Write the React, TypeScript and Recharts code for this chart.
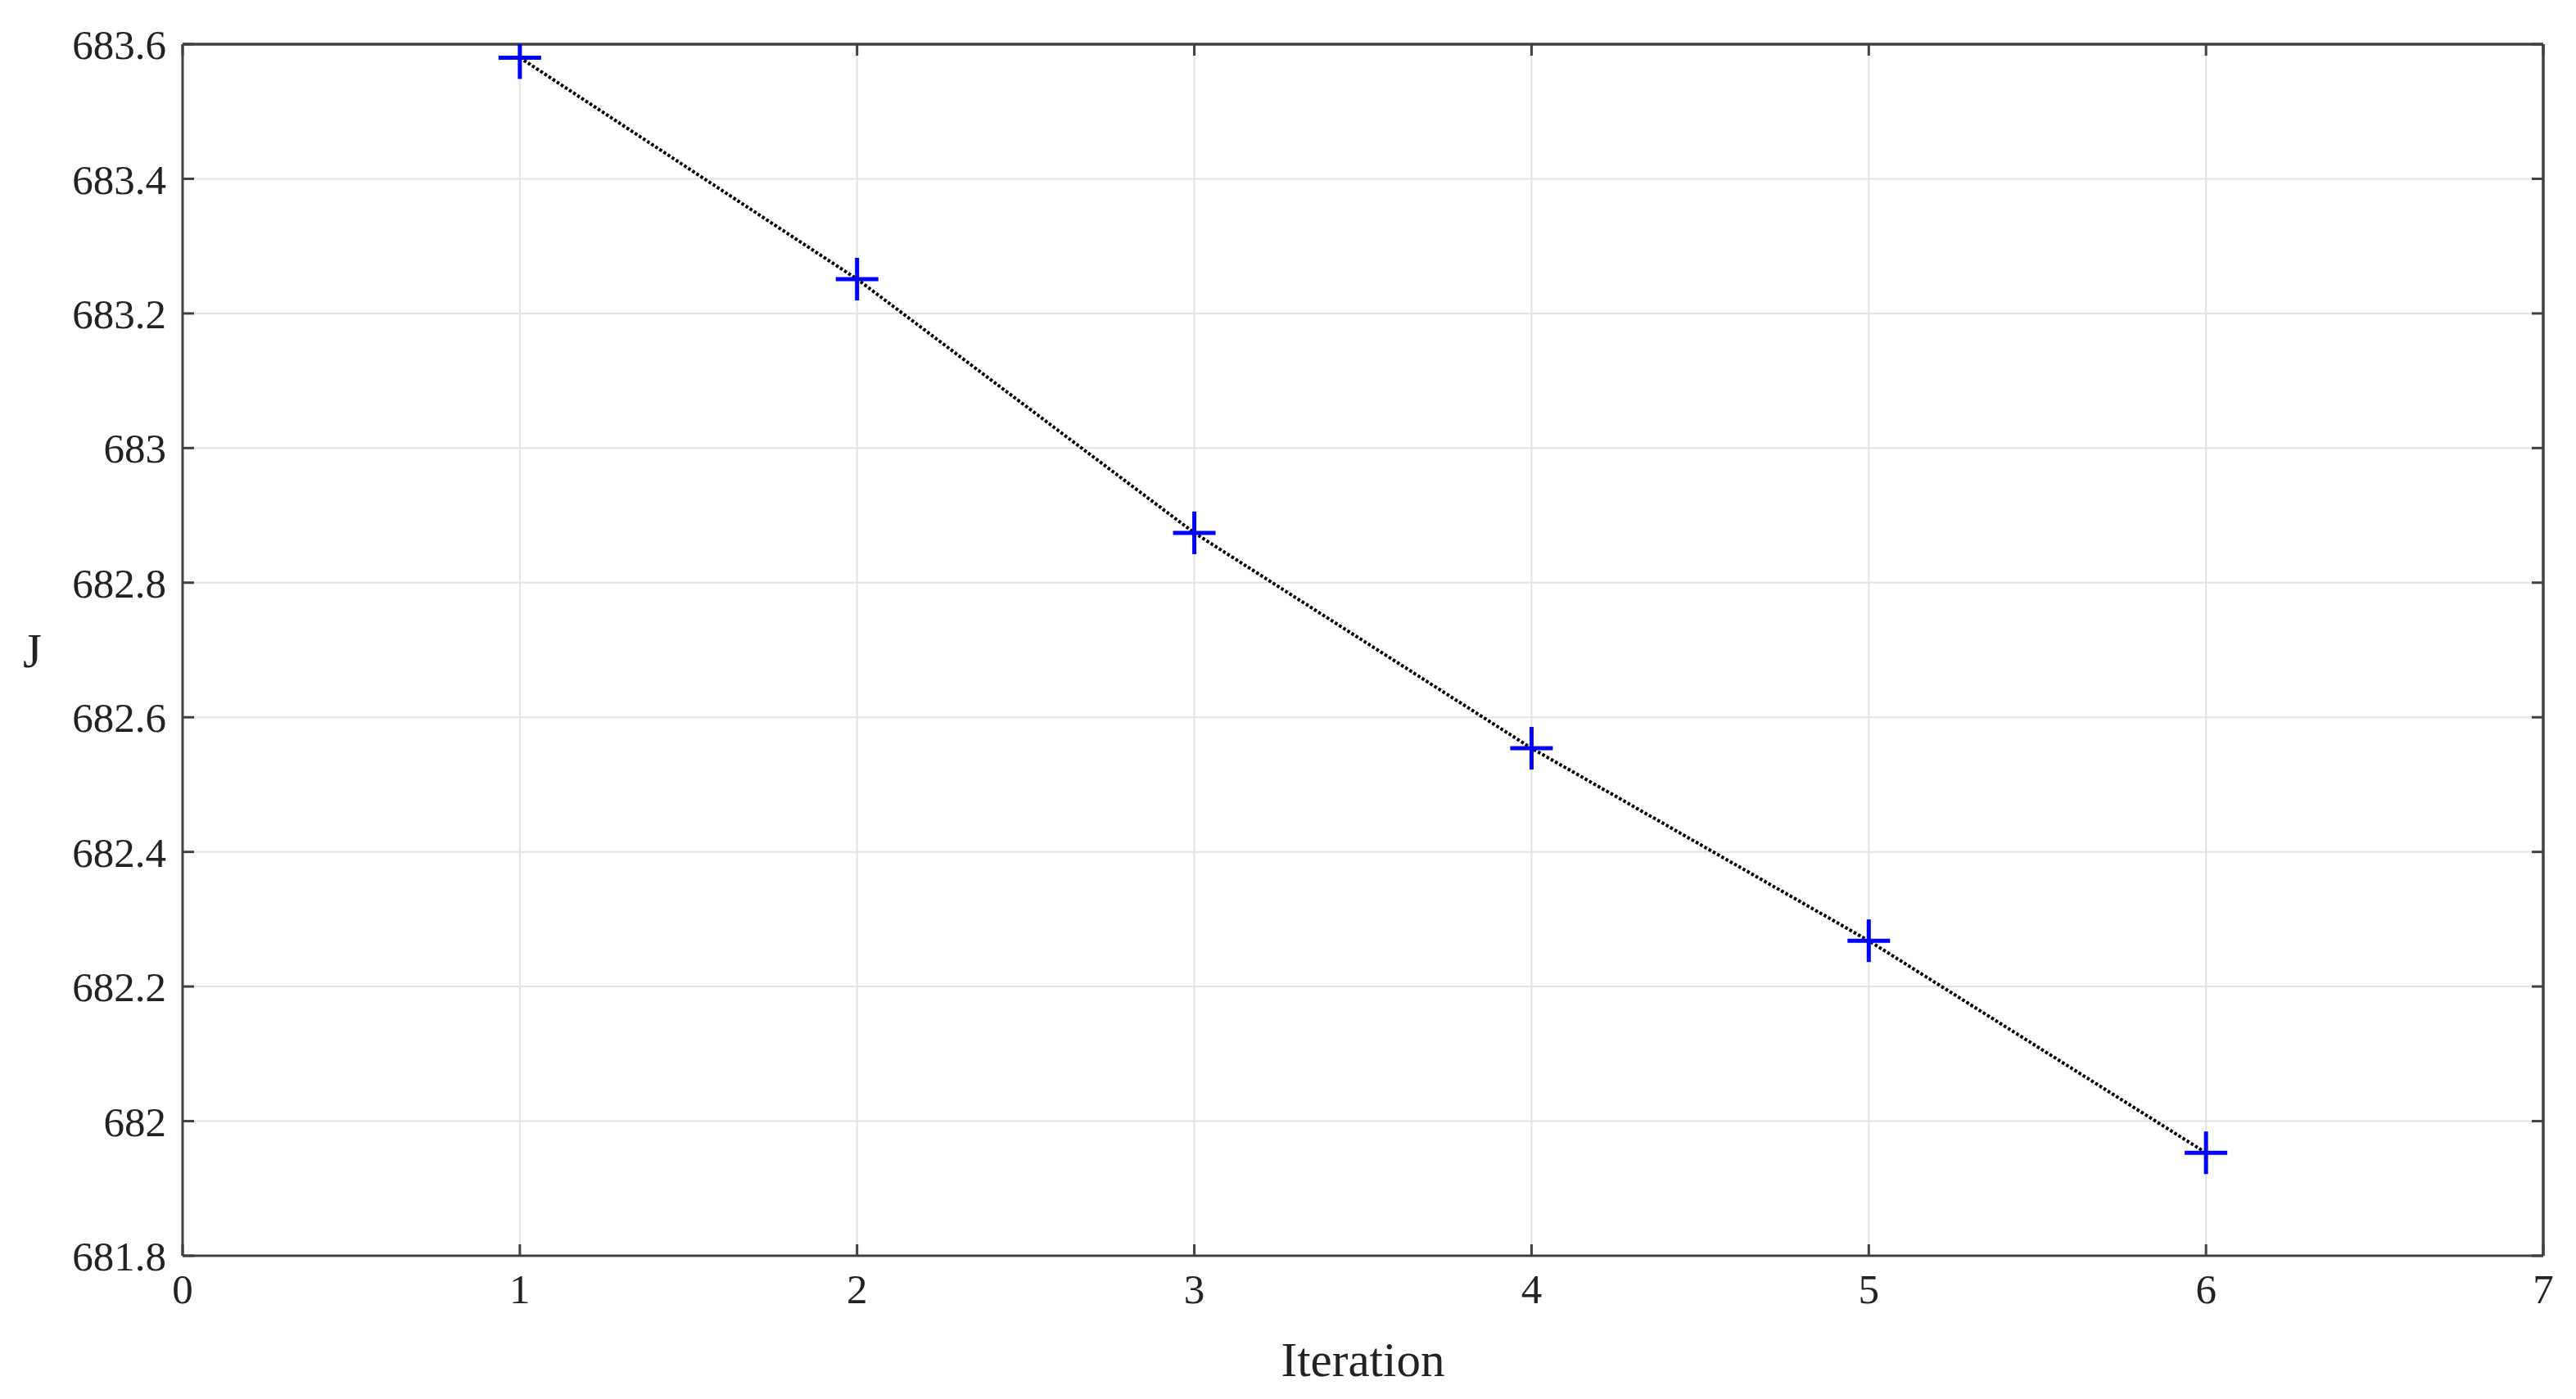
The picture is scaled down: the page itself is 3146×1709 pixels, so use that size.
import React from 'react';
import { LineChart, Line, XAxis, YAxis, CartesianGrid, ReferenceLine } from 'recharts';

const iterations = [1, 2, 3, 4, 5, 6];
const jValues = [683.58, 683.251, 682.874, 682.554, 682.268, 681.953];
const xTicks = [0, 1, 2, 3, 4, 5, 6, 7];
const yTicks = [681.8, 682, 682.2, 682.4, 682.6, 682.8, 683, 683.2, 683.4, 683.6];

const data = iterations.map((it, i) => ({ it, J: jValues[i] }));

const FONT = '"Liberation Serif", "DejaVu Serif", serif';
const AXIS_COLOR = '#404040';

const PlusMarker = (props: any) => {
  const { cx, cy } = props;
  if (cx == null || cy == null) return null;
  const h = 26;
  return (
    <g>
      <line x1={cx - h} y1={cy} x2={cx + h} y2={cy} stroke="#0000ff" strokeWidth={5} />
      <line x1={cx} y1={cy - h} x2={cx} y2={cy + h} stroke="#0000ff" strokeWidth={5} />
    </g>
  );
};

const EmptyTick = () => <g />;

export default function App() {
  const tickStyle = { fontFamily: FONT, fontSize: 51, fill: '#222' };
  return (
    <div style={{ width: 3130, height: 1693, background: '#fff' }}>
      <LineChart
        width={3130}
        height={1693}
        data={data}
        margin={{ top: 45, right: 31, bottom: 0, left: 0 }}
      >
        <CartesianGrid xAxisId="b" yAxisId="l" stroke="#e3e3e3" strokeWidth={2} />
        <XAxis
          xAxisId="b"
          dataKey="it"
          type="number"
          domain={[0, 7]}
          ticks={xTicks}
          allowDataOverflow
          height={167}
          tickSize={-14}
          tickMargin={36}
          stroke={AXIS_COLOR}
          strokeWidth={3}
          tick={tickStyle}
          label={{ value: 'Iteration', position: 'insideBottom', offset: 20, style: { fontFamily: FONT, fontSize: 59, fill: '#222' } }}
        />
        <XAxis
          xAxisId="t"
          orientation="top"
          dataKey="it"
          type="number"
          domain={[0, 7]}
          ticks={xTicks}
          allowDataOverflow
          height={1}
          tickSize={-14}
          tick={EmptyTick}
          stroke={AXIS_COLOR}
          strokeWidth={3}
        />
        <YAxis
          yAxisId="l"
          type="number"
          domain={[681.8, 683.6]}
          ticks={yTicks}
          allowDataOverflow
          width={215}
          tickSize={-14}
          tickMargin={34}
          stroke={AXIS_COLOR}
          strokeWidth={3}
          tick={tickStyle}
          label={{ value: 'J', position: 'insideLeft', offset: 20, style: { fontFamily: FONT, fontSize: 59, fill: '#222' } }}
        />
        <YAxis
          yAxisId="r"
          orientation="right"
          type="number"
          domain={[681.8, 683.6]}
          ticks={yTicks}
          allowDataOverflow
          width={1}
          tickSize={-14}
          tick={EmptyTick}
          stroke={AXIS_COLOR}
          strokeWidth={3}
        />
        <ReferenceLine xAxisId="b" yAxisId="l" y={683.6} stroke={AXIS_COLOR} strokeWidth={3} />
        <ReferenceLine xAxisId="b" yAxisId="l" x={7} stroke={AXIS_COLOR} strokeWidth={3} />
        <Line
          xAxisId="t"
          yAxisId="r"
          dataKey="J"
          type="linear"
          stroke="none"
          dot={false}
          activeDot={false}
          legendType="none"
          isAnimationActive={false}
        />
        <Line
          xAxisId="b"
          yAxisId="l"
          dataKey="J"
          type="linear"
          stroke="#000"
          strokeWidth={4}
          strokeDasharray="3.5 2.5"
          dot={<PlusMarker />}
          activeDot={false}
          isAnimationActive={false}
        />
      </LineChart>
    </div>
  );
}
